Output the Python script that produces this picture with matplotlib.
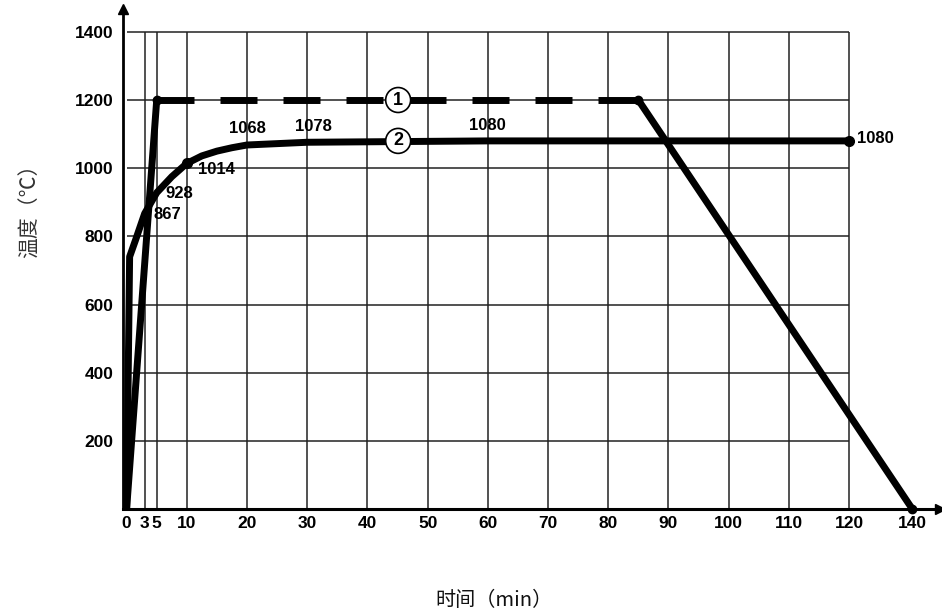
import numpy as np
import matplotlib
matplotlib.use("Agg")
import matplotlib.pyplot as plt

# ---- data ----
c1_x = [0, 5, 85, 140]
c1_y = [0, 1200, 1200, 0]

c2_x = [0, 0.5, 1.5, 3, 5, 7.5, 10, 12.5, 15, 17.5, 20, 30, 60, 120]
c2_y = [0, 740, 790, 867, 928, 975, 1014, 1036, 1050, 1060, 1068, 1076, 1080, 1080]

x_ticks = [0, 3, 5, 10, 20, 30, 40, 50, 60, 70, 80, 90, 100, 110, 120, 140]
x_grid = [3, 5, 10, 20, 30, 40, 50, 60, 70, 80, 90, 100, 110, 120]
y_ticks = [200, 400, 600, 800, 1000, 1200, 1400]

xlabel = "时间（min）"
ylabel = "温度（℃）"

# ---- axis scale: linear to 120, compressed 120..140 as in the original ----
def fwd(x):
    x = np.asarray(x, dtype=float)
    return np.where(x <= 120, x, 120 + (x - 120) * 10.5 / 20)

def inv(t):
    t = np.asarray(t, dtype=float)
    return np.where(t <= 120, t, 120 + (t - 120) * 20 / 10.5)

fig = plt.figure(figsize=(9.42, 6.13), dpi=100)
ax = fig.add_axes([123 / 942, 1 - 509 / 613, 817 / 942, 500 / 613])
ax.set_xscale("function", functions=(fwd, inv))
ax.set_xlim(-0.6, float(inv(135.1)))
ax.set_ylim(0, 1467)

# grid limited to 0..120 / 0..1400
ax.vlines(x_grid, 0, 1400, colors="#222222", lw=1.1, zorder=1)
ax.hlines(y_ticks, 0, 120, colors="#222222", lw=1.1, zorder=1)

lw = 5
# curve 1: solid rise, dashed hold, solid fall
ax.plot(c1_x[:2], c1_y[:2], color="black", lw=lw, solid_capstyle="round", zorder=3)
ax.plot(c1_x[1:3], c1_y[1:3], color="black", lw=lw,
        linestyle=(0, (37 * 0.72 / lw, 26 * 0.72 / lw)), dash_capstyle="butt", zorder=3)
ax.plot(c1_x[2:], c1_y[2:], color="black", lw=lw, solid_capstyle="round", zorder=3)
ax.plot(c1_x[1:], c1_y[1:], "o", color="black", ms=6, zorder=4, clip_on=False)

# curve 2
ax.plot(c2_x, c2_y, color="black", lw=lw, solid_joinstyle="round", zorder=3)
ax.plot([c2_x[6], c2_x[-1]], [c2_y[6], c2_y[-1]], "o", color="black", ms=7, zorder=4)

tfont = dict(family="Liberation Sans", weight="bold", size=12)
ax.text(4.4, 863, "867", ha="left", va="center", **tfont, zorder=5)
ax.text(6.4, 927, "928", ha="left", va="center", **tfont, zorder=5)
ax.text(11.9, 997, "1014", ha="left", va="center", **tfont, zorder=5)
ax.text(20, 1115, "1068", ha="center", va="center", **tfont, zorder=5)
ax.text(31, 1121, "1078", ha="center", va="center", **tfont, zorder=5)
ax.text(60, 1124, "1080", ha="center", va="center", **tfont, zorder=5)
ax.annotate("1080", (120, 1080), xytext=(6, 2), textcoords="offset points",
            ha="left", va="center", **tfont, zorder=5)

# curve id circles
for yv, s in [(1200, "1"), (1080, "2")]:
    ax.text(45.1, yv, s, ha="center", va="center", fontsize=13, fontweight="bold",
            family="Liberation Sans", zorder=6,
            bbox=dict(boxstyle="circle,pad=0.22", fc="white", ec="black", lw=1.2))

# spines
for s in ["top", "right"]:
    ax.spines[s].set_visible(False)
ax.spines["left"].set_linewidth(2)
ax.spines["bottom"].set_linewidth(2.2)
ax.plot(0, 1, "^", color="black", ms=7, transform=ax.transAxes, clip_on=False)
ax.plot(1, 0, ">", color="black", ms=7, transform=ax.transAxes, clip_on=False)

ax.set_xticks(x_ticks)
ax.set_xticklabels([str(v) for v in x_ticks])
ax.set_yticks(y_ticks)
ax.set_yticklabels([str(v) for v in y_ticks])
ax.tick_params(length=0)
for lab in ax.get_xticklabels() + ax.get_yticklabels():
    lab.set_fontfamily("Liberation Sans")
    lab.set_fontweight("bold")
    lab.set_fontsize(12.5)
ax.tick_params(axis="y", pad=7)
ax.tick_params(axis="x", pad=5)

fig.text(30 / 942, 1 - 206 / 613, ylabel, rotation=90, ha="center", va="center",
         fontsize=15, color="#333333", family=["Noto Sans CJK SC", "DejaVu Sans"])
fig.text(494 / 942, 1 - 600 / 613, xlabel, ha="center", va="center",
         fontsize=14.5, color="#111111", family=["Noto Sans CJK SC", "DejaVu Sans"])

fig.savefig("out.png", dpi=100)
